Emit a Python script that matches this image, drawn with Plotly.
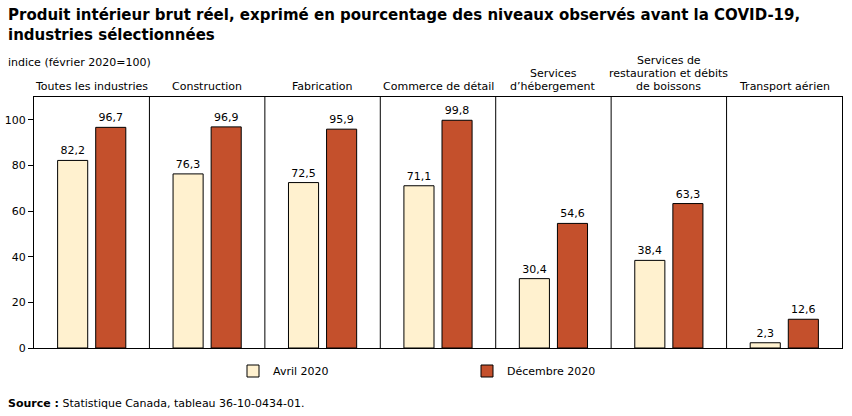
import plotly.graph_objects as go

categories = ["Toutes les industries", "Construction", "Fabrication", "Commerce de détail",
              "Services<br>d’hébergement", "Services de<br>restauration et débits<br>de boissons",
              "Transport aérien"]
avril = [82.2, 76.3, 72.5, 71.1, 30.4, 38.4, 2.3]
decembre = [96.7, 96.9, 95.9, 99.8, 54.6, 63.3, 12.6]
yticks = [0, 20, 40, 60, 80, 100]

FONT = "DejaVu Sans"
x = list(range(len(categories)))
PW, PH = 808, 251

fig = go.Figure()
fig.add_trace(go.Bar(x=x, y=avril, name="Avril 2020",
                     marker=dict(color="#FFF1CF", line=dict(color="black", width=1)),
                     texttemplate="%{y:.1f}", textposition="outside",
                     textfont=dict(size=11, color="black"), cliponaxis=False))
fig.add_trace(go.Bar(x=x, y=decembre, name="Décembre 2020",
                     marker=dict(color="#C4502C", line=dict(color="black", width=1)),
                     texttemplate="%{y:.1f}", textposition="outside",
                     textfont=dict(size=11, color="black"), cliponaxis=False))

# panel dividers
for i in range(len(categories) - 1):
    fig.add_shape(type="line", xref="x", yref="paper", x0=i + 0.5, x1=i + 0.5, y0=0, y1=1,
                  line=dict(color="black", width=1))

# category headers (one annotation per line for tight line spacing)
for i, c in enumerate(categories):
    lines = c.split("<br>")
    n = len(lines)
    for k, ln in enumerate(lines):
        fig.add_annotation(x=i, xref="x", y=1, yref="paper", yanchor="bottom", borderpad=0,
                           yshift=3 + (n - 1 - k) * 13, text=ln, showarrow=False,
                           font=dict(family=FONT, size=11, color="black"))

fig.add_annotation(xref="paper", x=-28 / PW, xanchor="left",
                   yref="paper", y=1 + (97 - 62.5) / PH, yanchor="middle",
                   text="indice (février 2020=100)", showarrow=False,
                   font=dict(family=FONT, size=11, color="black"))

fig.add_annotation(xref="paper", x=-28 / PW, xanchor="left", yref="paper",
                   y=-(403 - 348) / PH, yanchor="middle",
                   text="<b>Source :</b> Statistique Canada, tableau 36-10-0434-01.",
                   showarrow=False, font=dict(family=FONT, size=11, color="black"))

fig.add_annotation(xref="paper", x=-28 / PW, xanchor="left", yref="paper",
                   y=1 + (97 - 4) / PH, yanchor="top", align="left",
                   text="<b>Produit intérieur brut réel, exprimé en pourcentage des niveaux observés avant la COVID-19,<br>industries sélectionnées</b>",
                   showarrow=False, font=dict(family=FONT, size=15, color="black"))

fig.update_layout(
    width=852, height=416,
    margin=dict(l=34, r=10, t=97, b=68, autoexpand=False),
    paper_bgcolor="white", plot_bgcolor="white",
    separators=", ",
    font=dict(family=FONT, size=11, color="black"),
    barmode="group", bargap=0.34, bargroupgap=0.21,
    showlegend=True,
    legend=dict(orientation="h", x=(233 - 34) / PW, xanchor="left", y=-(371 - 348) / PH,
                yanchor="middle", entrywidth=189, font=dict(family=FONT, size=11),
                traceorder="normal"),
    xaxis=dict(range=[-0.5, len(categories) - 0.5], showticklabels=False, ticks="",
               showline=True, linecolor="black", mirror=True, showgrid=False, zeroline=False,
               automargin=False),
    yaxis=dict(range=[0, 110], tickvals=yticks, ticks="outside", ticklen=5, tickcolor="black",
               showline=True, linecolor="black", mirror=True, showgrid=False, zeroline=False,
               tickfont=dict(family=FONT, size=11), automargin=False),
)

fig.write_html("out.html")
